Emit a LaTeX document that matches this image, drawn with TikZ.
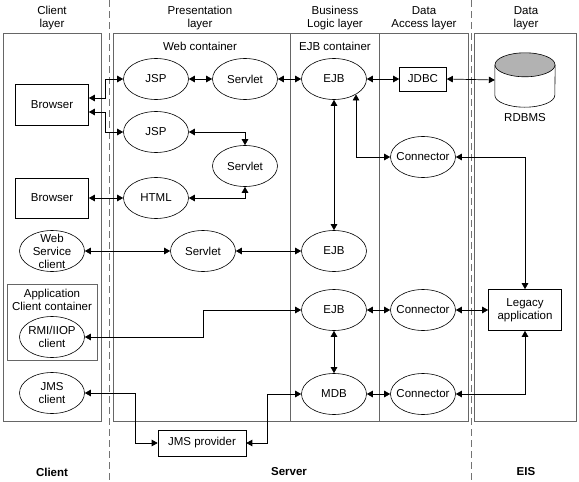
\documentclass[tikz,border=0pt]{standalone}
\usepackage{fontspec}
\setmainfont{Liberation Sans}
\usetikzlibrary{calc}
\usetikzlibrary{arrows.meta}
\usetikzlibrary{shapes.geometric}

\begin{document}
\begin{tikzpicture}[x=1pt, y=-1pt,
    font=\fontsize{11.5}{13}\selectfont,
    tier/.style={draw=black!60, line width=0.8pt},
    divider/.style={draw=black!55, line width=0.8pt, dash pattern=on 7pt off 4pt},
    bean/.style={draw, ellipse, line width=0.6pt, align=center,
      minimum width=65pt, minimum height=41pt, inner xsep=-4pt, inner ysep=-4pt},
    boxnode/.style={draw, rectangle, line width=0.6pt, align=center, inner sep=0pt},
    conn/.style={line width=0.7pt,
      {Triangle[length=6pt, width=6.5pt]}-{Triangle[length=6pt, width=6.5pt]}},
    tiername/.style={font=\fontsize{11.5}{13}\selectfont\bfseries}]
    \useasboundingbox (0,0) rectangle (579,482);

    % layers
    \draw[tier] (3,33) rectangle (101,421);
    \draw[tier] (113,33) rectangle (468,421);
    \draw[tier] (290,33) -- (290,421);
    \draw[tier] (379,33) -- (379,421);
    \draw[tier] (474,33) rectangle (576,421);
    \draw[tier] (7,284) rectangle (97,360);
    \draw[divider] (109,0) -- (109,482);
    \draw[divider] (471,0) -- (471,482);

    \node[align=center] (hclient) at (52,18) {Client\\layer};
    \node[align=center] (hpres) at (200,18) {Presentation\\layer};
    \node[align=center] (hlogic) at (335,18) {Business\\Logic layer};
    \node[align=center] (haccess) at (424,18) {Data\\Access layer};
    \node[align=center] (hdata) at (526,18) {Data\\layer};

    \node (webc) at (200,46) {Web container};
    \node (ejbc) at (335,46) {EJB container};
    \node[align=center] (appc) at (52,299.5) {Application\\Client container};

    \node[tiername] (tclient) at (52,472) {Client};
    \node[tiername] (tserver) at (289,472) {Server};
    \node[tiername] (teis) at (526,472) {EIS};

    % client layer
    \node[boxnode, minimum width=73pt, minimum height=41pt] (br1) at (52,105) {Browser};
    \node[boxnode, minimum width=73pt, minimum height=40pt] (br2) at (52,198) {Browser};
    \node[bean] (wsc) at (52,251) {Web\\Service\\client};
    \node[bean] (rmi) at (52,337) {RMI/IIOP\\client};
    \node[bean] (jmsc) at (52,393) {JMS\\client};

    % presentation layer
    \node[bean] (jsp1) at (156,79) {JSP};
    \node[bean] (srv1) at (245,79) {Servlet};
    \node[bean] (jsp2) at (156,132) {JSP};
    \node[bean] (srv2) at (245,166) {Servlet};
    \node[bean] (html) at (156,198) {HTML};
    \node[bean] (srv3) at (203,251) {Servlet};
    \node[boxnode, minimum width=88pt, minimum height=26pt] (jmsp) at (202,443) {JMS provider};

    % business logic layer
    \node[bean] (ejb1) at (334,79) {EJB};
    \node[bean] (ejb2) at (334,251) {EJB};
    \node[bean] (ejb3) at (334,310) {EJB};
    \node[bean] (mdb) at (334,394) {MDB};

    % data access layer
    \node[boxnode, minimum width=47pt, minimum height=24pt] (jdbc) at (423,79) {JDBC};
    \node[bean] (con1) at (423,157) {Connector};
    \node[bean] (con2) at (423,310) {Connector};
    \node[bean] (con3) at (423,394) {Connector};

    % data layer
    \node[minimum width=60pt, minimum height=30pt, inner sep=0pt] (db) at (525,80) {};
    \draw[line width=0.6pt] (db.north west) -- (db.south west)
      arc[start angle=180, end angle=360, x radius=30pt, y radius=12pt]
      -- (db.north east);
    \filldraw[fill=gray!60, line width=0.6pt] (db.north) ellipse [x radius=30pt, y radius=12pt];
    \node (dbname) at (525,118) {RDBMS};
    \node[boxnode, minimum width=73pt, minimum height=41pt] (legacy) at (525,310) {Legacy\\application};

    % connections
    \draw[conn] ([yshift=7pt]br1.east) -- ++(17,0) |- (jsp1.west);
    \draw[conn] ([yshift=-7pt]br1.east) -- ++(17,0) |- (jsp2.west);
    \draw[conn] (jsp1.east) -- (srv1.west);
    \draw[conn] (srv1.east) -- (ejb1.west);
    \draw[conn] (ejb1.east) -- (jdbc.west);
    \draw[conn] (jdbc.east) -- (db.west);
    \draw[conn] (jsp2.east) -| (srv2.north);
    \draw[conn] (html.east) -| (srv2.south);
    \draw[conn] (br2.east) -- (html.west);
    \draw[conn] (ejb1.south) -- (ejb2.north);
    \draw[conn] (ejb1.-35) |- (con1.west);
    \draw[conn] (con1.east) -| (legacy.north);
    \draw[conn] (wsc.east) -- (srv3.west);
    \draw[conn] (srv3.east) -- (ejb2.west);
    \draw[conn] (rmi.east) -| (srv3.center |- ejb3.west) -- (ejb3.west);
    \draw[conn] (ejb3.east) -- (con2.west);
    \draw[conn] (con2.east) -- (legacy.west);
    \draw[conn] (ejb3.south) -- (mdb.north);
    \draw[conn] (mdb.east) -- (con3.west);
    \draw[conn] (con3.east) -| (legacy.south);
    \draw[conn] (jmsc.east) -- ++(51,0) |- (jmsp.west);
    \draw[conn] (jmsp.east) -- ++(21,0) |- (mdb.west);
    \end{tikzpicture}
\end{document}
